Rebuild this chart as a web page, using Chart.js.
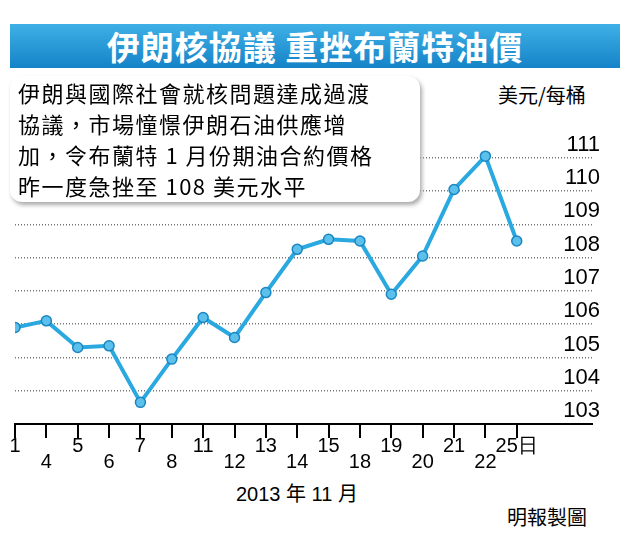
<!DOCTYPE html>
<html><head><meta charset="utf-8">
<script src="https://cdn.jsdelivr.net/npm/chart.js@4"></script>
<style>
body{margin:0;width:631px;height:540px;background:#fff;position:relative;overflow:hidden;font-family:"Noto Sans CJK TC","Noto Sans",sans-serif}
#title{position:absolute;left:10px;top:24px;width:610px;height:44px;background:linear-gradient(#3fb0e6,#1583c8);color:#fff;font-weight:bold;font-size:33px;text-align:center;line-height:44px;letter-spacing:1px}
#box{position:absolute;left:10px;top:76px;width:410px;height:126px;background:#fff;border-radius:12px;box-shadow:2px 3px 4px #aaa;font-size:22px;line-height:31px;padding:1px 0 0 8px;box-sizing:border-box;letter-spacing:1.5px;z-index:2}
#unit{position:absolute;left:498px;top:80px;font-size:20px}
#month{position:absolute;left:236px;top:478px;font-size:20px;font-family:"Liberation Sans","Noto Sans CJK TC"}
#credit{position:absolute;left:507px;top:502px;font-size:20px}
#wrap{position:absolute;left:0;top:120px;width:631px;height:350px}
</style></head><body>
<div id="title">伊朗核協議 重挫布蘭特油價</div>
<div id="box">伊朗與國際社會就核問題達成過渡<br>協議，市場憧憬伊朗石油供應增<br>加，令布蘭特 1 月份期油合約價格<br>昨一度急挫至 108 美元水平</div>
<div id="unit">美元/每桶</div>
<div id="month">2013 年 11 月</div>
<div id="credit">明報製圖</div>
<div id="wrap"><canvas id="c"></canvas></div>
<script>
const days = ['1', '4', '5', '6', '7', '8', '11', '12', '13', '14', '15', '18', '19', '20', '21', '22', '25日'];
const prices = [105.9, 106.1, 105.3, 105.35, 103.65, 104.95, 106.2, 105.6, 106.95, 108.25, 108.55, 108.5, 106.9, 108.05, 110.05, 111.05, 108.5];
const yTicks = [103, 104, 105, 106, 107, 108, 109, 110, 111];

const chart = new Chart(document.getElementById('c'), {
  type: 'line',
  data: {
    datasets: [{
      data: prices.map((p, i) => ({x: i, y: p})),
      borderColor: '#2aa8e0',
      borderWidth: 4,
      pointRadius: 5,
      pointBackgroundColor: '#5cc0ec',
      pointBorderColor: '#1b86c0',
      pointBorderWidth: 1.5,
      tension: 0
    }]
  },
  options: {
    responsive: true,
    maintainAspectRatio: false,
    animation: false,
    layout: {padding: {left: 15, right: 23, top: 0, bottom: 0}},
    plugins: {legend: {display: false}, tooltip: {enabled: false}},
    scales: {
      x: {
        type: 'linear', min: 0, max: 18.4,
        afterBuildTicks: s => { s.ticks = days.map((d, i) => ({value: i})); },
        ticks: {
          autoSkip: false, maxRotation: 0, color: '#000', padding: 0,
          font: {size: 20, family: 'Liberation Sans', lineHeight: 0.8},
          callback: (v) => (v % 2 === 0 ? days[v] : ['', days[v]])
        },
        grid: {drawOnChartArea: false, color: '#000', lineWidth: 2, tickLength: 14},
        border: {color: '#000', width: 2}
      },
      y: {
        position: 'right', min: 103, max: 111.5,
        afterBuildTicks: s => { s.ticks = yTicks.map(v => ({value: v})); },
        ticks: {
          mirror: true, padding: 8, labelOffset: -13, color: '#000',
          font: {size: 22, family: 'Liberation Sans'}
        },
        grid: {color: c => c.tick && c.tick.value === 103 ? 'rgba(0,0,0,0)' : '#777', lineWidth: 1.5, drawTicks: false},
        border: {display: false, dash: [1, 2]}
      }
    }
  }
});
</script>
</body></html>
